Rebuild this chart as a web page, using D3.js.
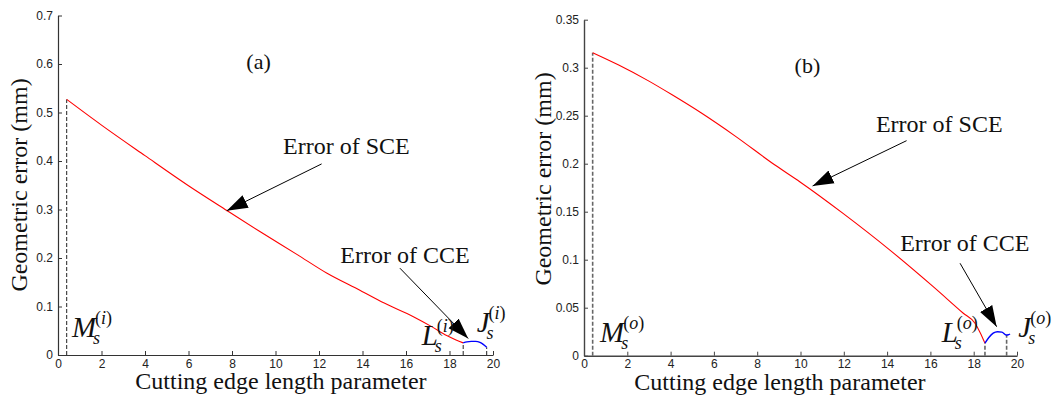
<!DOCTYPE html>
<html lang="en">
<head>
    <meta charset="UTF-8">
    <title>Geometric error along the cutting edge</title>
    <style>
        body {
            margin: 0;
            background: #fff;
        }

        .tick text {
            font-family: "Liberation Sans", Arial, sans-serif;
            font-size: 12px;
            fill: #222;
        }

        .serif {
            font-family: "Liberation Serif", "Times New Roman", serif;
            fill: #111;
        }
    </style>
</head>
<body>
    <svg id="chart" width="1063" height="401"></svg>

    <script src="https://d3js.org/d3.v7.min.js"></script>
    <script>
        // values
        const xTicks = [0, 2, 4, 6, 8, 10, 12, 14, 16, 18, 20];
        const xTickLabels = ["0", "2", "4", "6", "8", "10", "12", "14", "16", "18", "20"];

        const yTicksA = [0, 0.1, 0.2, 0.3, 0.4, 0.5, 0.6, 0.7];
        const yTickLabelsA = ["0", "0.1", "0.2", "0.3", "0.4", "0.5", "0.6", "0.7"];
        const yTicksB = [0, 0.05, 0.1, 0.15, 0.2, 0.25, 0.3, 0.35];
        const yTickLabelsB = ["0", "0.05", "0.1", "0.15", "0.2", "0.25", "0.3", "0.35"];

        // panel (a): inner side
        const sceA_x = [0.4, 2, 4, 6, 7.76, 9.3, 11, 12.35, 13.9, 15, 16.34, 17.2, 17.87, 18.3, 18.63];
        const sceA_y = [0.527, 0.474, 0.411, 0.349, 0.298, 0.254, 0.207, 0.169, 0.133, 0.107, 0.079, 0.058, 0.040, 0.031, 0.025];
        const cceA_x = [18.63, 18.8, 19.0, 19.2, 19.4, 19.55, 19.71];
        const cceA_y = [0.025, 0.027, 0.028, 0.028, 0.026, 0.022, 0.016];
        const guideA_x = [0.4, 18.63, 19.71];
        const guideA_y = [0.527, 0.025, 0.016];

        // panel (b): outer side
        const sceB_x = [0.4, 1.58, 3, 4.05, 5.44, 6.97, 8.82, 9.98, 11.98, 14.13, 16.13, 17.52, 18.06, 18.3, 18.52];
        const sceB_y = [0.3156, 0.303, 0.286, 0.272, 0.2525, 0.229, 0.1986, 0.181, 0.148, 0.110, 0.0719, 0.0442, 0.0338, 0.024, 0.013];
        const cceB_x = [18.52, 18.7, 18.9, 19.1, 19.3, 19.5, 19.6, 19.68];
        const cceB_y = [0.013, 0.019, 0.0235, 0.025, 0.0245, 0.0215, 0.0218, 0.0226];
        const guideB_x = [0.4, 18.52, 19.52];
        const guideB_y = [0.3156, 0.013, 0.0216];

        // annotations, in data units: [text, textX, textY, fromX, fromY, toX, toY]
        const notesA = [
            ["Error of SCE", 13.26, 0.414, 12.12, 0.394, 7.76, 0.2975],
            ["Error of CCE", 15.95, 0.190, 15.72, 0.179, 18.86, 0.034]
        ];
        const notesB = [
            ["Error of SCE", 16.41, 0.2333, 14.9, 0.224, 10.56, 0.1768],
            ["Error of CCE", 17.59, 0.1094, 17.37, 0.0963, 19.06, 0.0302]
        ];
        // point labels: [letter, superscript letter, x, y]
        const marksA = [["M", "i", 0.64, 0.0377], ["L", "i", 16.72, 0.0206], ["J", "i", 19.25, 0.048]];
        const marksB = [["M", "o", 0.74, 0.0146], ["L", "o", 16.52, 0.0146], ["J", "o", 20.06, 0.0198]];

        const svg = d3.select('#chart');

        svg.append('defs').append('marker')
            .attr('id', 'head')
            .attr('viewBox', '-21 -7.5 21 15')
            .attr('refX', 0)
            .attr('refY', 0)
            .attr('markerWidth', 21)
            .attr('markerHeight', 15)
            .attr('markerUnits', 'userSpaceOnUse')
            .attr('orient', 'auto')
            .append('path')
            .attr('d', 'M0,0L-21,-7L-21,7Z')
            .attr('fill', '#000');

        function drawPanel(p) {
            const x = d3.scaleLinear().domain([0, 20]).range([p.left, p.right]);
            const y = d3.scaleLinear().domain([0, p.yMax]).range([p.bottom, p.top]);
            const g = svg.append('g');

            // axes, ticks inward like matlab
            g.append('g')
                .attr('transform', `translate(0,${p.bottom})`)
                .call(d3.axisBottom(x).tickValues(xTicks).tickFormat((d, i) => xTickLabels[i])
                    .tickSizeInner(-4).tickSizeOuter(0).tickPadding(4))
                .call(a => a.select('.domain').attr('stroke', p.axisColor).attr('stroke-width', p.axisWidth))
                .call(a => a.selectAll('.tick line').attr('stroke', p.axisColor));

            g.append('g')
                .attr('transform', `translate(${p.left},0)`)
                .call(d3.axisLeft(y).tickValues(p.yTicks).tickFormat((d, i) => p.yLabels[i])
                    .tickSizeInner(-4).tickSizeOuter(0).tickPadding(5))
                .call(a => a.select('.domain').attr('stroke', p.axisColor).attr('stroke-width', p.axisWidth))
                .call(a => a.selectAll('.tick line').attr('stroke', p.axisColor));

            // dashed guide lines
            g.selectAll('.guide')
                .data(p.guideX)
                .enter().append('line')
                .attr('x1', d => x(d)).attr('x2', d => x(d))
                .attr('y1', y(0)).attr('y2', (d, i) => y(p.guideY[i]))
                .attr('stroke', p.guideColor)
                .attr('stroke-width', p.guideWidth)
                .attr('stroke-dasharray', '4,2');

            const line = d3.line().x(d => x(d[0])).y(d => y(d[1])).curve(d3.curveMonotoneX);
            g.append('path')
                .datum(d3.zip(p.sceX, p.sceY))
                .attr('d', line)
                .attr('fill', 'none')
                .attr('stroke', '#ff0000')
                .attr('stroke-width', 1.1);
            g.append('path')
                .datum(d3.zip(p.cceX, p.cceY))
                .attr('d', line)
                .attr('fill', 'none')
                .attr('stroke', '#0000ff')
                .attr('stroke-width', 1.4);

            // arrows + notes
            p.notes.forEach(n => {
                g.append('text').attr('class', 'serif')
                    .attr('x', x(n[1])).attr('y', y(n[2]))
                    .attr('text-anchor', 'middle')
                    .style('font-size', '24px')
                    .text(n[0]);
                g.append('line')
                    .attr('x1', x(n[3])).attr('y1', y(n[4]))
                    .attr('x2', x(n[5])).attr('y2', y(n[6]))
                    .attr('stroke', '#000')
                    .attr('stroke-width', 1)
                    .attr('marker-end', 'url(#head)');
            });

            // M, L, J labels with sub/superscripts
            p.marks.forEach(m => {
                const px = x(m[2]), py = y(m[3]);
                const main = g.append('text').attr('class', 'serif')
                    .attr('x', px).attr('y', py)
                    .style('font-style', 'italic')
                    .style('font-size', '29px')
                    .text(m[0]);
                const w = main.node().getComputedTextLength();
                g.append('text').attr('class', 'serif')
                    .attr('x', px + w - 3).attr('y', py + 7)
                    .style('font-style', 'italic')
                    .style('font-size', '18px')
                    .text('s');
                const sup = g.append('text').attr('class', 'serif')
                    .attr('x', px + w - 1).attr('y', py - 13)
                    .style('font-size', '18px');
                sup.append('tspan').text('(');
                sup.append('tspan').style('font-style', 'italic').text(m[1]);
                sup.append('tspan').text(')');
            });

            // panel tag and axis titles
            g.append('text').attr('class', 'serif')
                .attr('x', x(p.tagX)).attr('y', p.top + 53)
                .attr('text-anchor', 'middle')
                .style('font-size', '22px')
                .text(p.tag);

            g.append('text').attr('class', 'serif')
                .attr('x', x(p.xTitleX)).attr('y', p.bottom + 34)
                .attr('text-anchor', 'middle')
                .style('font-size', '24px')
                .text('Cutting edge length parameter');

            g.append('text').attr('class', 'serif')
                .attr('transform', `translate(${p.yTitleX},${p.yTitleY}) rotate(-90)`)
                .attr('text-anchor', 'middle')
                .style('font-size', '24px')
                .text('Geometric error (mm)');
        }

        drawPanel({
            left: 58, right: 493, top: 15.5, bottom: 355, yMax: 0.7,
            yTicks: yTicksA, yLabels: yTickLabelsA,
            sceX: sceA_x, sceY: sceA_y, cceX: cceA_x, cceY: cceA_y,
            guideX: guideA_x, guideY: guideA_y,
            guideColor: '#222', guideWidth: 1,
            axisColor: '#333', axisWidth: 1.2,
            notes: notesA, marks: marksA,
            tag: '(a)', tagX: 9.22, xTitleX: 10.25,
            yTitleX: 27, yTitleY: 185
        });

        drawPanel({
            left: 584, right: 1017, top: 19.7, bottom: 355.7, yMax: 0.35,
            yTicks: yTicksB, yLabels: yTickLabelsB,
            sceX: sceB_x, sceY: sceB_y, cceX: cceB_x, cceY: cceB_y,
            guideX: guideB_x, guideY: guideB_y,
            guideColor: '#666', guideWidth: 1.6,
            axisColor: '#444', axisWidth: 1.4,
            notes: notesB, marks: marksB,
            tag: '(b)', tagX: 10.32, xTitleX: 9.05,
            yTitleX: 551, yTitleY: 179
        });
    </script>
</body>
</html>
